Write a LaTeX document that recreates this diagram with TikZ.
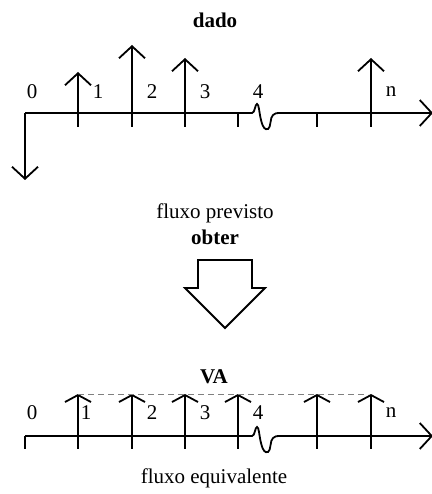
\documentclass[tikz,border=0pt]{standalone}
\usepackage{fontspec}
\setmainfont{Liberation Serif}
\usetikzlibrary{arrows.meta}
\begin{document}
\begin{tikzpicture}[x=1pt,y=-1pt,line width=1.8pt,
  flow/.style={-{Straight Barb[length=12pt,width=26pt]}},
  flatflow/.style={-{Straight Barb[length=7pt,width=26pt]}},
  axisline/.style={-{Straight Barb[length=12pt,width=26pt]}},
  lbl/.style={font=\fontsize{21}{25}\selectfont,inner sep=0pt},
  ttl/.style={font=\fontsize{21}{25}\selectfont\bfseries,inner sep=0pt},
  level/.style={line width=0.8pt,gray,dash pattern=on 6pt off 4pt}]
\useasboundingbox (0,0) rectangle (431,494);

% ---------- projected cash flow ----------
\node[ttl] (dado) at (215,20) {dado};
\coordinate (a0) at (25,113);
\coordinate (a1) at (78,113);
\coordinate (a2) at (132,113);
\coordinate (a3) at (185,113);
\coordinate (a4) at (238,113);
\coordinate (a5) at (317,113);
\coordinate (an) at (371,113);
\coordinate (aend) at (433,113);
\draw[axisline] (a0) -- (252,113)
  .. controls (255,113) and (255,104) .. (257,104)
  .. controls (259,104) and (259,112) .. (261,120)
  .. controls (263,128) and (265,130) .. (268,129)
  .. controls (271,128) and (270,117) .. (273,115)
  .. controls (275,113) and (277,113) .. (279,113) -- (aend);
\foreach \p in {a1,a2,a3,a4,a5,an} \draw (\p) -- ++(0,14);
\coordinate (d0) at (25,180);
\draw[flow] (a0) -- (d0);
\draw[flow] (a1) -- (78,72);
\draw[flow] (a2) -- (132,45);
\draw[flow] (a3) -- (185,58);
\draw[flow] (an) -- (371,58);
\node[lbl] (l0) at (32,92) {0};
\node[lbl] (l1) at (98,92) {1};
\node[lbl] (l2) at (152,92) {2};
\node[lbl] (l3) at (205,92) {3};
\node[lbl] (l4) at (258,92) {4};
\node[lbl] (ln) at (391,92) {n};
\node[lbl] (prev) at (215,213) {fluxo previsto};

% ---------- step arrow ----------
\node[ttl] (obter) at (215,237) {obter};
\draw[miter limit=10] (198,260) -- (252,260) -- (252,288) -- (265,288)
  -- (225,328) -- (185,288) -- (198,288) -- cycle;

% ---------- equivalent cash flow ----------
\node[ttl] (va) at (214,377) {VA};
\coordinate (b0) at (25,436);
\coordinate (b1) at (78,436);
\coordinate (b2) at (132,436);
\coordinate (b3) at (185,436);
\coordinate (b4) at (238,436);
\coordinate (b5) at (317,436);
\coordinate (bn) at (371,436);
\coordinate (bend) at (433,436);
\draw[axisline] (b0) -- (252,436)
  .. controls (255,436) and (255,427) .. (257,427)
  .. controls (259,427) and (259,435) .. (261,443)
  .. controls (263,451) and (265,453) .. (268,452)
  .. controls (271,451) and (270,440) .. (273,438)
  .. controls (275,436) and (277,436) .. (279,436) -- (bend);
\foreach \p in {b0,b1,b2,b3,b4,b5,bn} \draw (\p) -- ++(0,13);
\foreach \p in {b1,b2,b3,b4,b5,bn} \draw[flatflow] (\p) -- ++(0,-42);
\draw[level] (78,394) -- (368,394);
\node[lbl] (m0) at (32,413) {0};
\node[lbl] (m1) at (86,413) {1};
\node[lbl] (m2) at (152,413) {2};
\node[lbl] (m3) at (205,413) {3};
\node[lbl] (m4) at (258,413) {4};
\node[lbl] (mn) at (391,413) {n};
\node[lbl] (equiv) at (214,478) {fluxo equivalente};
\end{tikzpicture}
\end{document}
